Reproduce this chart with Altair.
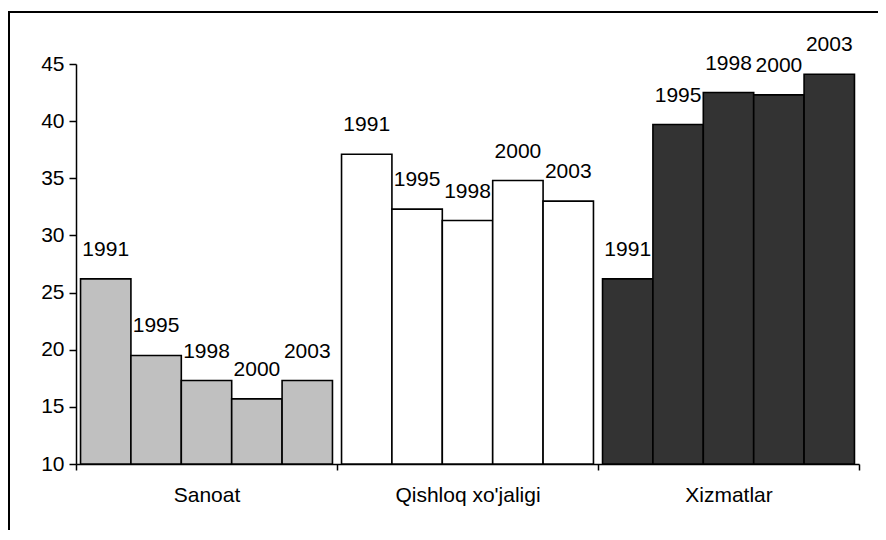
import altair as alt
import pandas as pd

categories = ["Sanoat", "Qishloq xo'jaligi", "Xizmatlar"]
years = ["1991", "1995", "1998", "2000", "2003"]
sanoat = [26.2, 19.5, 17.3, 15.7, 17.3]
qishloq = [37.1, 32.3, 31.3, 34.8, 33.0]
xizmatlar = [26.2, 39.7, 42.5, 42.3, 44.1]
fill_colors = ["#C0C0C0", "#FFFFFF", "#333333"]
y_ticks = [10, 15, 20, 25, 30, 35, 40, 45]

rows = []
for cat, vals in zip(categories, [sanoat, qishloq, xizmatlar]):
    for yr, v in zip(years, vals):
        rows.append({"cat": cat, "year": yr, "value": v})
df = pd.DataFrame(rows)

FONT = "Liberation Sans, Arial, sans-serif"

x_enc = alt.X(
    "cat:N",
    sort=categories,
    scale=alt.Scale(paddingInner=0, paddingOuter=0),
    axis=alt.Axis(
        title=None,
        labelAngle=0,
        tickBand="extent",
        tickSize=6,
        labelPadding=14,
        grid=False,
    ),
)
xoff_enc = alt.XOffset("year:N", sort=years, scale=alt.Scale(paddingInner=0, paddingOuter=0.09))
y_enc = alt.Y(
    "value:Q",
    scale=alt.Scale(domain=[10, 45], zero=False, nice=False),
    axis=alt.Axis(title=None, values=y_ticks, grid=False, tickSize=7, labelPadding=5),
)

base = alt.Chart(df)

bars = base.mark_bar(stroke="black", strokeWidth=1.6, clip=True).encode(
    x=x_enc,
    xOffset=xoff_enc,
    y=y_enc,
    y2=alt.datum(10),
    fill=alt.Fill("cat:N", scale=alt.Scale(domain=categories, range=fill_colors), legend=None),
)

labels = base.mark_text(dy=-29, baseline="middle", align="center", fontSize=21, font=FONT, color="black").encode(
    x=x_enc,
    xOffset=xoff_enc,
    y=y_enc,
    text="year:N",
)

frame = alt.Chart(pd.DataFrame({"a": [0]})).mark_rect(
    fillOpacity=0, stroke="black", strokeWidth=2
).encode(
    x=alt.value(-67), x2=alt.value(900), y=alt.value(-52), y2=alt.value(700)
)

chart = alt.layer(frame, bars, labels).properties(
    width=783,
    height=400,
    autosize=alt.AutoSizeParams(type="none"),
    padding={"left": 68, "top": 56, "right": 19, "bottom": 66},
).configure_view(stroke=None).configure_axis(
    domainColor="black",
    domainWidth=1.5,
    tickColor="black",
    tickWidth=1.5,
    labelFont=FONT,
    labelFontSize=21,
    labelColor="black",
)

chart.save("out.html", embed_options={"renderer": "svg", "actions": False})
